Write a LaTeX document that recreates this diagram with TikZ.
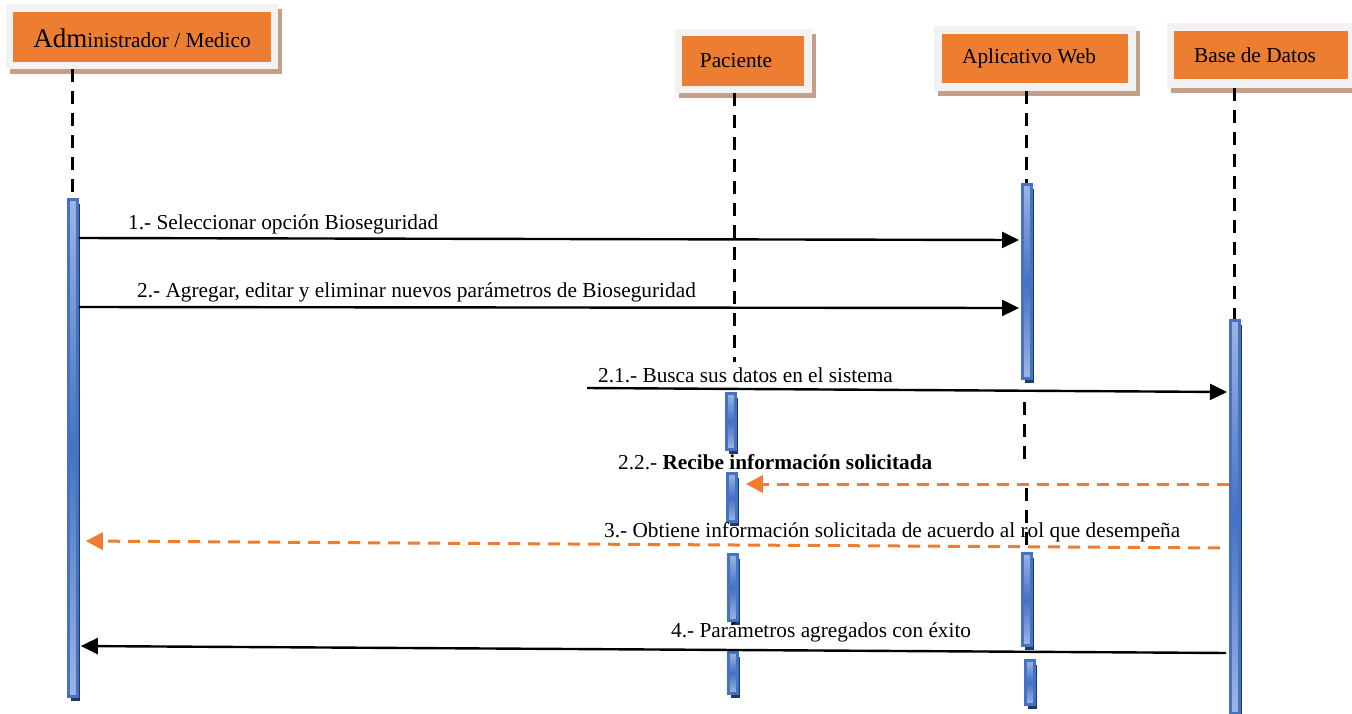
\documentclass[tikz,border=0pt]{standalone}
\usepackage{fontspec}
\setmainfont{Liberation Serif}
\usetikzlibrary{arrows.meta,shadows}
\definecolor{orng}{HTML}{ED7D31}
\definecolor{hdrgrey}{HTML}{F2F2F2}
\definecolor{hdrshadow}{HTML}{C4A08A}
\definecolor{barblue}{HTML}{4472C4}
\definecolor{barlight}{HTML}{9DB5E2}
\definecolor{bardark}{HTML}{203864}
\begin{document}
\begin{tikzpicture}[x=1pt,y=-1pt,
  font=\fontsize{21.3}{25}\selectfont,
  hdrouter/.style={fill=hdrgrey, draw=none, anchor=north west, inner sep=0pt,
    drop shadow={shadow xshift=4pt, shadow yshift=-5pt, fill=hdrshadow, opacity=1}},
  hdrinner/.style={fill=orng, draw=none, anchor=north west, inner sep=0pt},
  hdrtext/.style={inner sep=0pt, text=black},
  actbar/.style={rectangle, anchor=north west, inner sep=0pt, minimum width=9pt,
    draw=barblue, line width=2.8pt, top color=barlight, bottom color=barlight,
    middle color=barblue,
    drop shadow={shadow xshift=3pt, shadow yshift=-5pt, fill=bardark, opacity=1}},
  lifeline/.style={draw=black, line width=3pt, dash pattern=on 13pt off 9pt},
  msg/.style={draw=black, line width=2.4pt, -{Triangle[length=17pt,width=16pt]}},
  reply/.style={draw=orng, line width=3pt, dash pattern=on 12pt off 8pt,
    -{Triangle[length=17pt,width=17pt]}},
  lbl/.style={inner sep=0pt, anchor=base west, text=black}]
\useasboundingbox (0,0) rectangle (1352,713);
\fill[white] (0,0) rectangle (1352,713);

% headers
\node[hdrouter, minimum width=272pt, minimum height=65pt] (admo) at (6,4) {};
\node[hdrinner, minimum width=258pt, minimum height=50pt] (admi) at (13,12) {};
\node[hdrtext] (admt) at (142,38) {{\fontsize{27}{30}\selectfont Adm}inistrador / Medico};

\node[hdrouter, minimum width=137pt, minimum height=64pt] (paco) at (675,29) {};
\node[hdrinner, minimum width=122pt, minimum height=50pt] (paci) at (682,36) {};
\node[hdrtext] (pact) at (736,61) {Paciente};

\node[hdrouter, minimum width=202pt, minimum height=65pt] (webo) at (934,26) {};
\node[hdrinner, minimum width=186pt, minimum height=49pt] (webi) at (942,34) {};
\node[hdrtext] (webt) at (1029,58) {Aplicativo Web};

\node[hdrouter, minimum width=190pt, minimum height=65pt] (dbo) at (1167,23) {};
\node[hdrinner, minimum width=174pt, minimum height=48pt] (dbi) at (1174,31) {};
\node[hdrtext] (dbt) at (1255,55) {Base de Datos};

% activation bars
\node[actbar, minimum height=497pt] (admbar) at (67,198) {};
\node[actbar, minimum height=194pt] (webbar1) at (1021,183) {};
\node[actbar, minimum height=56pt] (pacbar1) at (725,392) {};
\node[actbar, minimum height=48pt] (pacbar2) at (726,472) {};
\node[actbar, minimum height=66pt] (pacbar3) at (727,553) {};
\node[actbar, minimum height=41pt] (pacbar4) at (727,651) {};
\node[actbar, minimum height=92pt] (webbar2) at (1021,552) {};
\node[actbar, minimum height=44pt] (webbar3) at (1024,659) {};
\node[actbar, minimum height=393pt] (dbbar) at (1229,319) {};

% lifelines
\coordinate (pacll) at (734,362);
\coordinate (webla) at (1024,402);
\coordinate (weblb) at (1024,460);
\coordinate (weblc) at (1026,488);
\coordinate (webld) at (1026,551);
\draw[lifeline] (admbar.north |- admo.south) -- (admbar.north);
\draw[lifeline] (pacll |- paco.south) -- (pacll);
\draw[lifeline] (webbar1.north |- webo.south) -- (webbar1.north);
\draw[lifeline] (webla) -- (weblb);
\draw[lifeline] (weblc) -- (webld);
\draw[lifeline] (dbbar.north |- dbo.south) -- (dbbar.north);

% messages
\coordinate (m21s) at (587,388);
\draw[msg, shorten >=2pt] (admbar.east |- 0,238) -- (webbar1.west |- 0,240);
\draw[msg, shorten >=2pt] (admbar.east |- 0,307) -- (webbar1.west |- 0,308);
\draw[msg, shorten >=2pt] (m21s) -- (dbbar.west |- 0,392);
\draw[reply, shorten >=8pt] (dbbar.west |- 0,484) -- (pacbar2.east |- 0,484);
\draw[reply, shorten <=9pt, shorten >=7pt] (dbbar.west |- 0,548) -- (admbar.east |- 0,541);
\draw[msg, shorten <=3pt, shorten >=2pt] (dbbar.west |- 0,653) -- (admbar.east |- 0,646);

% labels
\node[lbl] (l1) at (128,229) {1.- Seleccionar opción Bioseguridad};
\node[lbl] (l2) at (137,297) {2.- Agregar, editar y eliminar nuevos parámetros de Bioseguridad};
\node[lbl] (l21) at (598,382) {2.1.- Busca sus datos en el sistema};
\node[lbl] (l22) at (618,469) {2.2.- \textbf{Recibe información solicitada}};
\node[lbl] (l3) at (604,537) {3.- Obtiene información solicitada de acuerdo al rol que desempeña};
\node[lbl] (l4) at (671,637) {4.- Parámetros agregados con éxito};
\end{tikzpicture}
\end{document}
